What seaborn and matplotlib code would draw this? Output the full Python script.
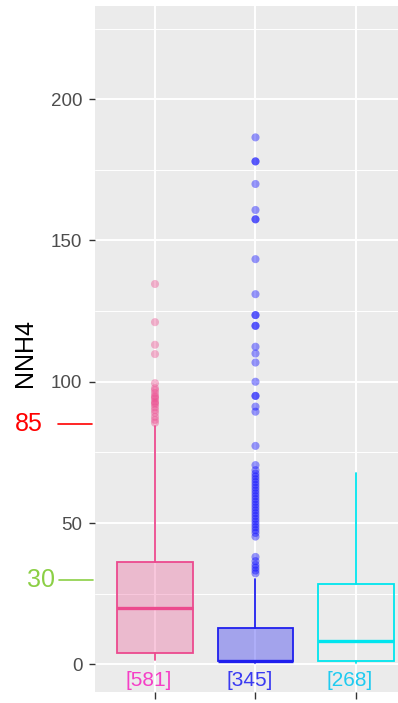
import numpy as np
import pandas as pd
import matplotlib
matplotlib.use("Agg")
import matplotlib.pyplot as plt
import matplotlib.transforms as mtransforms
import seaborn as sns

# ---------------- data ----------------
groups = ["G1", "G2", "G3"]
count_labels = ["[581]", "[345]", "[268]"]

q1 = [4.1, 1.0, 1.2]
median = [20.0, 1.2, 8.2]
q3 = [36.3, 13.0, 28.3]
whis_lo = [1.5, 0.5, 0.3]
whis_hi = [84.5, 30.3, 67.8]

out_g1 = [85.5, 86.5, 87.6, 89, 90, 91, 92, 92.5, 93, 94, 94.5, 95, 96, 97, 97.7,
          99.5, 109.8, 113.1, 121.1, 134.6]
out_g2 = [32.2, 33.2, 34.2, 35.2, 36.5, 38.0, 45.2, 46.5, 47.5, 48.5, 49.5, 50.5,
          51.5, 52.5, 53.5, 54.5, 55.5, 56.5, 57.5, 58.5, 59.5, 60.5, 61.5, 62.5,
          63.5, 64.5, 65.5, 66.5, 67.5, 68.7, 70.5, 77.3, 89.4, 91.2, 95, 95,
          100, 106.8, 110, 112.4, 119.8, 119.8, 123.6, 123.6, 131, 143.4, 157.5,
          157.5, 160.8, 170, 178, 178, 186.5]
out_g3 = []

edge_colors = ["#EC4A8E", "#1F1FEE", "#00E5EE"]
fill_colors = ["#EC4A8E", "#2E2EF0", "none"]
fill_alpha = [0.3, 0.38, 0.0]
label_colors = ["#F53FC6", "#3A3AF2", "#1FCBF0"]

# ---------------- figure ----------------
sns.set_theme(style="darkgrid")
plt.rcParams["font.family"] = ["Liberation Sans", "DejaVu Sans"]

fig = plt.figure(figsize=(3.98, 7.03), dpi=100)
ax = fig.add_axes([95 / 398, 11.3 / 703, 303 / 398, 685.7 / 703])
ax.set_facecolor("#EBEBEB")

# boxes
for i in range(len(groups)):
    st = [{"q1": q1[i], "med": median[i], "q3": q3[i],
           "whislo": whis_lo[i], "whishi": whis_hi[i], "fliers": []}]
    res = ax.bxp(st, positions=[i], widths=0.75, patch_artist=True,
                 showfliers=False, showcaps=False,
                 boxprops=dict(edgecolor=edge_colors[i], linewidth=1.3),
                 whiskerprops=dict(color=edge_colors[i], linewidth=1.3),
                 medianprops=dict(color=edge_colors[i], linewidth=2.4))
    for b in res["boxes"]:
        if fill_colors[i] == "none":
            b.set_facecolor("none")
        else:
            b.set_facecolor(matplotlib.colors.to_rgba(fill_colors[i], fill_alpha[i]))
    for art in res["boxes"] + res["whiskers"] + res["medians"]:
        art.set_zorder(3)

# outliers
df = pd.DataFrame({
    "pos": [0] * len(out_g1) + [1] * len(out_g2) + [2] * len(out_g3),
    "val": out_g1 + out_g2 + out_g3,
    "grp": [groups[0]] * len(out_g1) + [groups[1]] * len(out_g2) + [groups[2]] * len(out_g3),
})
sns.scatterplot(data=df, x="pos", y="val", hue="grp",
                palette={groups[0]: "#EC4A8E", groups[1]: "#0000FF", groups[2]: "#00E5EE"},
                s=34, alpha=0.4, linewidth=0, legend=False, ax=ax, zorder=4)

# count labels under boxes
for i, lab in enumerate(count_labels):
    ax.text(i - 0.06, -5.6, lab, color=label_colors[i], fontsize=15,
            ha="center", va="center", zorder=5)

# axes styling (ggplot grey look)
ax.set_xlim(-0.597, 2.418)
ax.set_ylim(-9.7, 233)
ax.set_xticks([0, 1, 2])
ax.set_xticklabels([])
ax.set_yticks([0, 50, 100, 150, 200])
ax.set_yticks([25, 75, 125, 175, 225], minor=True)
ax.grid(which="major", color="white", linewidth=1.4)
ax.grid(which="minor", axis="y", color="white", linewidth=0.7)
ax.grid(which="minor", axis="x", visible=False)
for sp in ax.spines.values():
    sp.set_visible(False)
ax.tick_params(axis="y", which="major", length=4.5, width=1.0, color="#333333",
               labelcolor="#4D4D4D", labelsize=13.5, pad=4.5, left=True)
ax.tick_params(axis="x", which="major", length=5, width=1.0, color="#333333",
               bottom=True)
ax.tick_params(which="minor", length=0)
ax.set_xlabel("")
ax.set_ylabel("NNH4", fontsize=18, color="black")
ax.yaxis.set_label_coords(-0.192, 0.494)

# reference marks in the left margin
trans = mtransforms.blended_transform_factory(fig.transFigure, ax.transData)
ax.plot([58 / 398, 92 / 398], [85, 85], color="#FF0000", linewidth=1.2,
        transform=trans, clip_on=False)
ax.text(29 / 398, 85, "85", color="#FF0000", fontsize=18, ha="center",
        va="center", transform=trans)
ax.plot([59 / 398, 93 / 398], [30, 30], color="#8BCF45", linewidth=1.2,
        transform=trans, clip_on=False)
ax.text(41 / 398, 30, "30", color="#8BCF45", fontsize=18, ha="center",
        va="center", transform=trans)

fig.savefig("out.png", dpi=100)
